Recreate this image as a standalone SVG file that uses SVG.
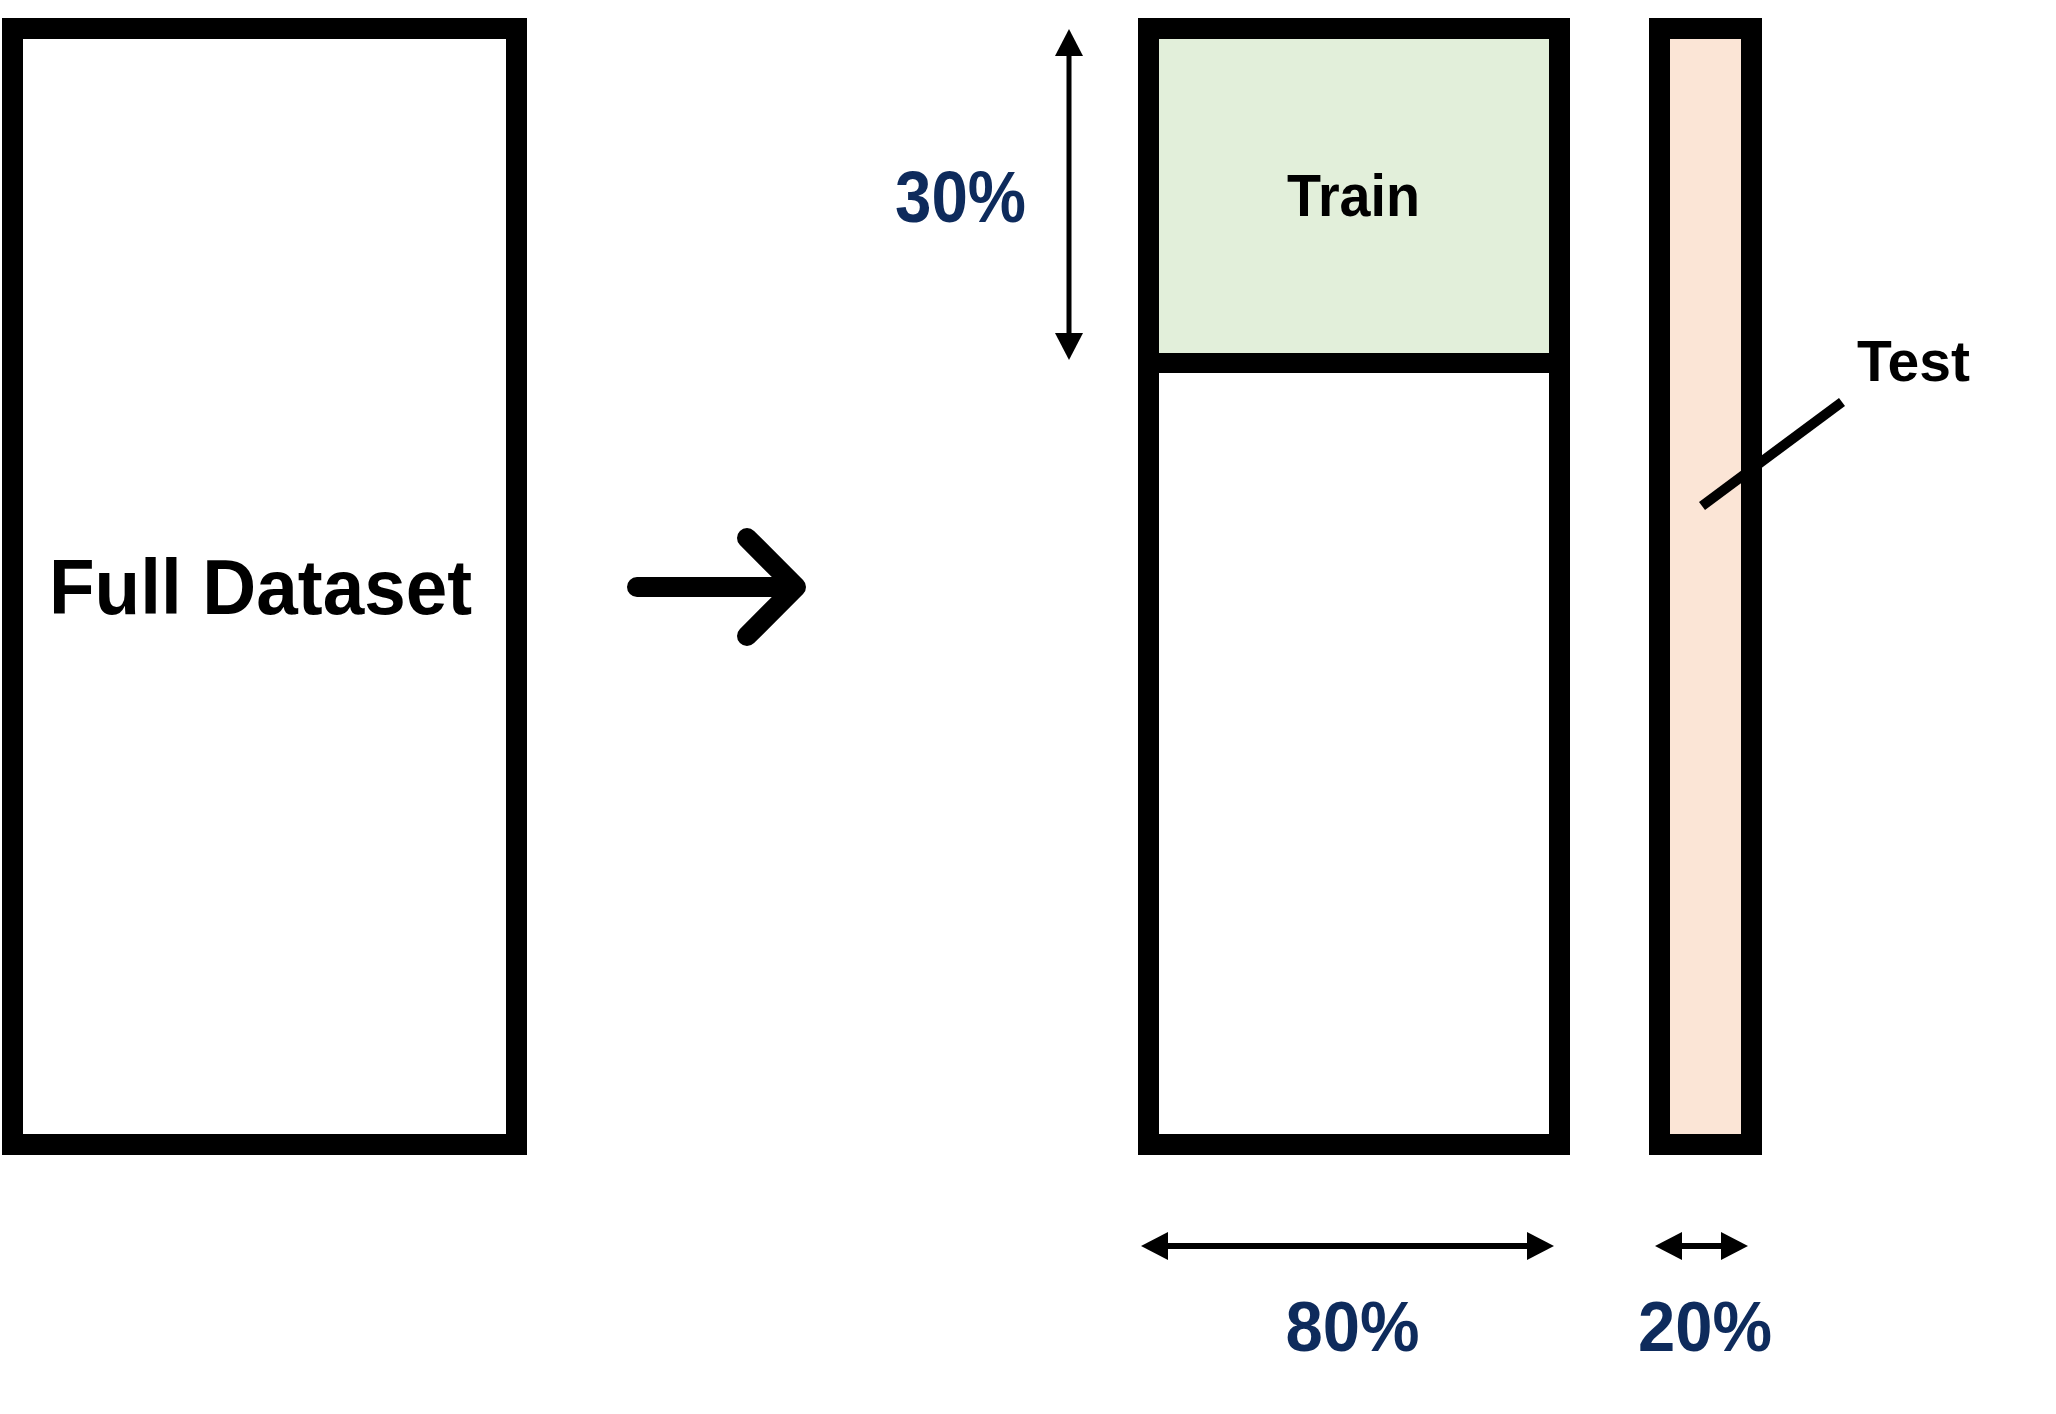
<svg xmlns="http://www.w3.org/2000/svg" width="2056" height="1414" viewBox="0 0 2056 1414">
<defs>
<style>
.box{fill:none;stroke:#000;stroke-width:21}
.lbl{font-family:"Liberation Sans",Arial,sans-serif;font-weight:bold;fill:#000}
.pct{font-family:"Liberation Sans",Arial,sans-serif;font-weight:bold;fill:#0e2b5c;text-anchor:middle}
.dim{stroke:#000;fill:none}
</style>
<marker id="ah" markerUnits="userSpaceOnUse" markerWidth="28" markerHeight="28" viewBox="0 0 28 28" refX="0" refY="14" orient="auto-start-reverse">
<path d="M0,0 L27,14 L0,28 Z" fill="#000"/>
</marker>
</defs>
<rect width="2056" height="1414" fill="#fff"/>

<g id="full-dataset">
<rect class="box" x="12.5" y="28.5" width="504" height="1116"/>
<text class="lbl" x="49" y="614" font-size="78" textLength="423" lengthAdjust="spacingAndGlyphs">Full Dataset</text>
</g>

<g id="train-split">
<rect x="1159" y="38" width="390" height="316" fill="#e2efda"/>
<rect class="box" x="1148.5" y="28.5" width="411" height="1116"/>
<line x1="1148" y1="363" x2="1560" y2="363" stroke="#000" stroke-width="20"/>
<text class="lbl" x="1287" y="216" font-size="60" textLength="133" lengthAdjust="spacingAndGlyphs">Train</text>
</g>

<g id="test-split">
<rect x="1670" y="38" width="71" height="1097" fill="#fbe5d6"/>
<rect class="box" x="1659.5" y="28.5" width="92" height="1116"/>
</g>

<g id="test-label">
<line x1="1842" y1="402" x2="1702" y2="506" stroke="#000" stroke-width="10"/>
<text class="lbl" x="1857" y="381" font-size="57" textLength="113" lengthAdjust="spacingAndGlyphs">Test</text>
</g>

<g id="connectors">
<path d="M637 587 H796 M747 538 L796 587 L747 636" fill="none" stroke="#000" stroke-width="20" stroke-linecap="round" stroke-linejoin="round"/>
<line class="dim" x1="1069" y1="56" x2="1069" y2="333" stroke-width="5" marker-start="url(#ah)" marker-end="url(#ah)"/>
<line class="dim" x1="1168" y1="1246" x2="1527" y2="1246" stroke-width="6" marker-start="url(#ah)" marker-end="url(#ah)"/>
<line class="dim" x1="1682" y1="1246" x2="1721" y2="1246" stroke-width="6" marker-start="url(#ah)" marker-end="url(#ah)"/>
</g>

<g id="percent-labels">
<text class="pct" x="960.5" y="222" font-size="72" textLength="131" lengthAdjust="spacingAndGlyphs">30%</text>
<text class="pct" x="1352.5" y="1351" font-size="71" textLength="134" lengthAdjust="spacingAndGlyphs">80%</text>
<text class="pct" x="1705" y="1351" font-size="71" textLength="134" lengthAdjust="spacingAndGlyphs">20%</text>
</g>
</svg>
